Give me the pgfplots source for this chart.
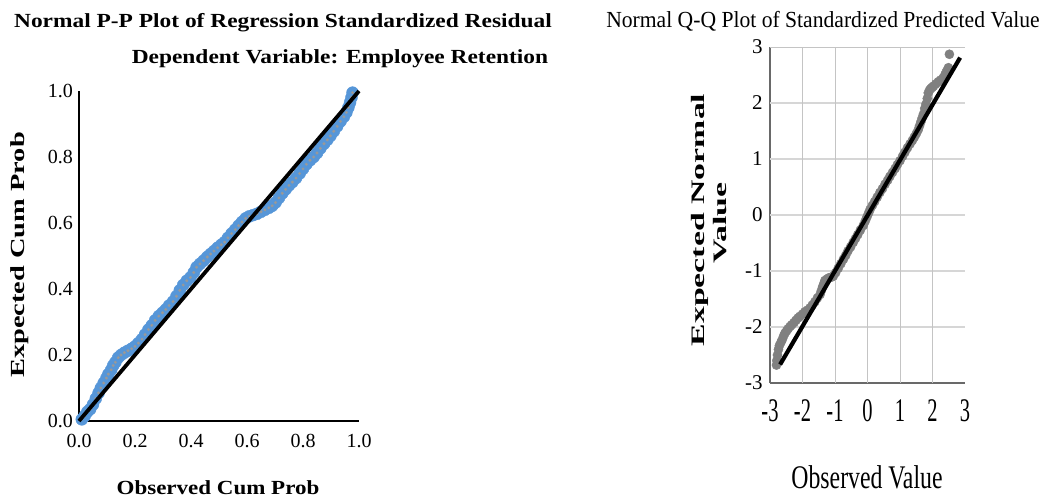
\documentclass[border=0pt]{standalone}
\usepackage{fontspec}
\usepackage{pgfplots}
\pgfplotsset{compat=1.18}
\setmainfont{Liberation Serif}
\newfontfamily\condfont[FakeStretch=0.62]{Liberation Serif}
\newfontfamily\titlefont[FakeStretch=0.94]{Liberation Serif}
\newfontfamily\xlabfont[FakeStretch=0.72]{Liberation Serif}
\newfontfamily\wideT[FakeStretch=1.17]{Liberation Serif}
\newfontfamily\wideX[FakeStretch=1.15]{Liberation Serif}
\newfontfamily\wideB[FakeStretch=1.42]{Liberation Serif}
\newfontfamily\wideC[FakeStretch=1.78]{Liberation Serif}
\definecolor{ppblue}{RGB}{86,150,216}
\definecolor{qqgray}{RGB}{128,128,128}
\definecolor{hgrid}{RGB}{214,214,214}
\definecolor{vgrid}{RGB}{196,196,196}
\definecolor{axgray}{RGB}{105,105,105}

\pgfplotstableread{
x y
0.010 0.005
0.020 0.015
0.030 0.028
0.040 0.036
0.050 0.050
0.060 0.068
0.070 0.085
0.078 0.100
0.088 0.115
0.098 0.130
0.105 0.142
0.115 0.155
0.122 0.168
0.130 0.178
0.140 0.192
0.150 0.200
0.162 0.207
0.175 0.213
0.188 0.219
0.200 0.226
0.212 0.236
0.225 0.248
0.236 0.262
0.248 0.277
0.260 0.290
0.272 0.305
0.285 0.318
0.298 0.328
0.310 0.338
0.322 0.350
0.336 0.362
0.348 0.378
0.360 0.396
0.372 0.412
0.385 0.425
0.398 0.435
0.410 0.450
0.420 0.466
0.432 0.476
0.445 0.486
0.458 0.497
0.470 0.506
0.482 0.515
0.495 0.525
0.508 0.534
0.520 0.542
0.532 0.555
0.545 0.568
0.558 0.580
0.570 0.592
0.582 0.603
0.595 0.614
0.608 0.620
0.622 0.624
0.636 0.628
0.650 0.634
0.664 0.640
0.678 0.646
0.690 0.652
0.702 0.662
0.714 0.676
0.726 0.690
0.738 0.702
0.750 0.714
0.762 0.724
0.775 0.736
0.788 0.750
0.800 0.764
0.812 0.778
0.825 0.790
0.838 0.800
0.850 0.812
0.862 0.826
0.875 0.840
0.887 0.852
0.898 0.864
0.910 0.878
0.922 0.893
0.934 0.908
0.946 0.922
0.955 0.935
0.962 0.950
0.968 0.965
0.973 0.980
0.977 0.995
}\pptable

\pgfplotstableread{
x y
-2.80 -2.68
-2.79 -2.60
-2.77 -2.50
-2.74 -2.40
-2.71 -2.33
-2.66 -2.27
-2.62 -2.22
-2.58 -2.16
-2.54 -2.11
-2.49 -2.07
-2.44 -2.03
-2.38 -1.99
-2.33 -1.96
-2.26 -1.92
-2.20 -1.88
-2.14 -1.84
-2.08 -1.81
-2.00 -1.77
-1.93 -1.73
-1.85 -1.70
-1.77 -1.66
-1.70 -1.61
-1.62 -1.55
-1.54 -1.48
-1.46 -1.42
-1.42 -1.35
-1.38 -1.28
-1.34 -1.22
-1.31 -1.17
-1.24 -1.14
-1.18 -1.12
-1.11 -1.11
-1.05 -1.09
-0.98 -1.03
-0.90 -0.95
-0.82 -0.87
-0.74 -0.79
-0.67 -0.72
-0.60 -0.64
-0.52 -0.57
-0.44 -0.49
-0.37 -0.42
-0.30 -0.35
-0.22 -0.27
-0.13 -0.19
-0.07 -0.11
-0.02 -0.04
0.03 0.03
0.08 0.10
0.15 0.17
0.22 0.24
0.30 0.32
0.38 0.40
0.46 0.47
0.54 0.55
0.62 0.62
0.69 0.69
0.77 0.76
0.85 0.83
0.92 0.90
1.00 0.97
1.08 1.05
1.15 1.12
1.23 1.20
1.31 1.27
1.38 1.33
1.44 1.39
1.50 1.45
1.56 1.52
1.60 1.59
1.64 1.66
1.68 1.73
1.72 1.80
1.76 1.90
1.80 1.98
1.84 2.08
1.87 2.18
1.91 2.23
1.95 2.26
1.99 2.28
2.03 2.30
2.10 2.34
2.18 2.38
2.25 2.41
2.33 2.45
2.38 2.50
2.42 2.55
2.46 2.59
2.49 2.63
2.52 2.87
}\qqtable

\begin{document}
\begin{tikzpicture}
\path[use as bounding box] (0,0) rectangle (1042pt,500pt);

% ---------- Left: P-P plot ----------
\begin{axis}[
  at={(79pt,79pt)}, anchor=south west,
  scale only axis, width=280pt, height=330pt,
  xmin=0, xmax=1, ymin=0, ymax=1,
  axis lines=left,
  axis line style={black, line width=2.4pt, -},
  xtick={0,0.2,0.4,0.6,0.8,1}, ytick={0,0.2,0.4,0.6,0.8,1},
  xticklabels={0.0,0.2,0.4,0.6,0.8,1.0},
  yticklabels={0.0,0.2,0.4,0.6,0.8,1.0},
  major tick length=0pt,
  tick style={draw=none},
  xticklabel style={anchor=base, yshift=-27pt, inner sep=0pt, font=\fontsize{20}{20}\selectfont},
  yticklabel style={anchor=east, xshift=-6pt, inner sep=0pt, font=\fontsize{20}{20}\selectfont},
  clip=false, clip marker paths=true,
]
\addplot[only marks, mark=*, mark size=6pt, color=ppblue, mark options={draw=none, fill=ppblue}] table[x=x,y=y] {\pptable};
\addplot[only marks, mark=*, mark size=1.3pt, color=gray!80, mark options={draw=none}] table[x=x,y=y] {\pptable};
\addplot[black, line width=3.8pt] coordinates {(0,0) (1,1)};
\end{axis}

% ---------- Right: Q-Q plot ----------
\begin{axis}[
  at={(770pt,117pt)}, anchor=south west,
  scale only axis, width=195pt, height=336pt,
  xmin=-3, xmax=3, ymin=-3, ymax=3,
  axis lines=left,
  axis line style={axgray, line width=1.6pt, -},
  xtick={-3,...,3}, ytick={-3,...,3},
  xticklabels={-3,-2,-1,0,1,2,3},
  yticklabels={-3,-2,-1,0,1,2,3},
  tick style={draw=none},
  clip=false, clip marker paths=true,
  xticklabel style={anchor=base, yshift=-36pt, inner sep=0pt, font=\condfont\fontsize{33}{33}\selectfont},
  yticklabel style={anchor=east, xshift=-5pt, inner sep=0pt, font=\fontsize{21}{21}\selectfont},
]
\pgfplotsinvokeforeach{-2,-1,0,1,2}{
  \draw[hgrid, line width=2.2pt] (axis cs:-3,#1) -- (axis cs:3,#1);
}
\draw[vgrid, line width=0.9pt] (axis cs:-3,3) -- (axis cs:3,3);
\pgfplotsinvokeforeach{-2,-1,0,1,2}{
  \draw[vgrid, line width=0.9pt] (axis cs:#1,-3) -- (axis cs:#1,3);
}
\addplot[only marks, mark=*, mark size=4.6pt, color=qqgray, mark options={draw=none, fill=qqgray}] table[x=x,y=y] {\qqtable};
\addplot[black, line width=4.2pt] coordinates {(-2.69,-2.67) (2.85,2.81)};
\end{axis}

% ---------- Texts ----------
\node[anchor=base, inner sep=0pt, font=\wideT\bfseries\fontsize{20}{20}\selectfont] at (283pt,472pt) {Normal P-P Plot of Regression Standardized Residual};
\node[anchor=base, inner sep=0pt, font=\wideT\bfseries\fontsize{20}{20}\selectfont] at (340pt,436pt) {Dependent Variable: Employee Retention};
\node[rotate=90, inner sep=0pt, font=\wideB\bfseries\fontsize{20}{20}\selectfont] at (20pt,245pt) {Expected Cum Prob};
\node[anchor=base, inner sep=0pt, font=\wideX\bfseries\fontsize{20}{20}\selectfont] at (218pt,5pt) {Observed Cum Prob};

\node[anchor=base, inner sep=0pt, font=\titlefont\fontsize{23}{23}\selectfont] at (823pt,472pt) {Normal Q-Q Plot of Standardized Predicted Value};
\node[rotate=90, inner sep=0pt, font=\wideC\bfseries\fontsize{19}{19}\selectfont] at (700pt,280pt) {Expected Normal};
\node[rotate=90, inner sep=0pt, font=\wideC\bfseries\fontsize{19}{19}\selectfont] at (720pt,277pt) {Value};
\node[anchor=base, inner sep=0pt, font=\xlabfont\fontsize{33}{33}\selectfont] at (867pt,11pt) {Observed Value};
\end{tikzpicture}
\end{document}
